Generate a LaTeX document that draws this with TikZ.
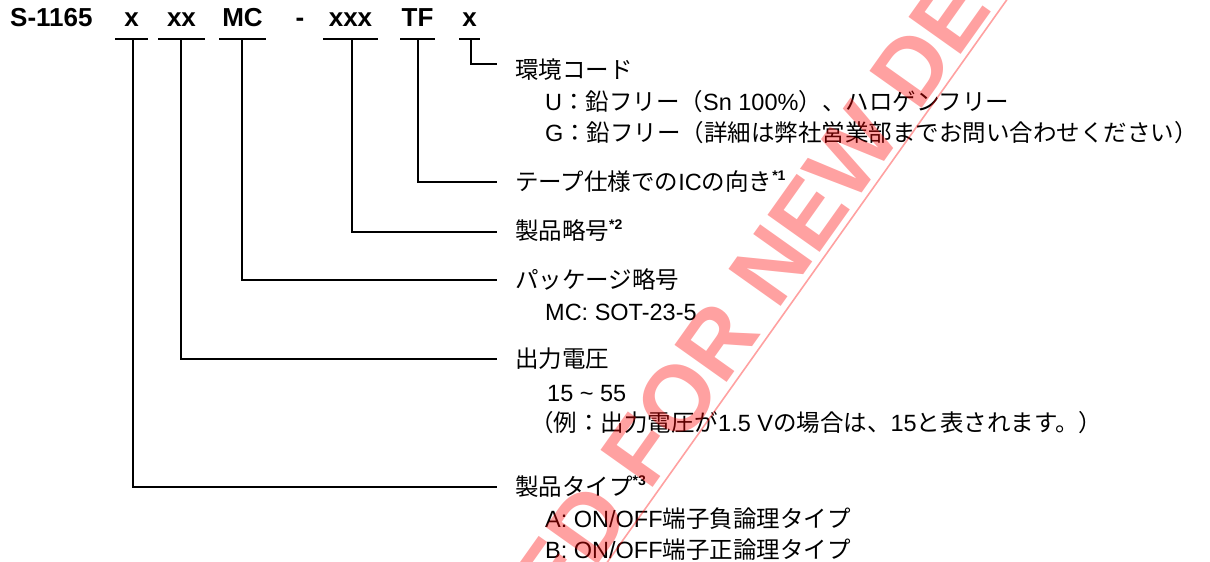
\documentclass[tikz,border=0pt]{standalone}
\usepackage{fontspec}
\setmainfont{Liberation Sans}
\newfontfamily\jpf{Noto Sans CJK JP}
\newcommand\jpt[1]{{\jpf #1}}
\newcommand\noteref[1]{\raisebox{0.42em}{\fontsize{14}{14}\selectfont\bfseries *#1}}
\begin{document}
\begin{tikzpicture}[x=1pt,y=-1pt,
  lab/.style={anchor=base west, inner sep=0pt, font=\fontsize{23.5}{28}\selectfont},
  ttl/.style={anchor=base, inner sep=0pt, font=\fontsize{26}{30}\selectfont\bfseries},
  ln/.style={line width=1.5pt, black},
  wm/.style={inner sep=0pt, text=red, text opacity=0.37, font=\fontsize{93}{100}\selectfont\bfseries},
  wmline/.style={draw=red, draw opacity=0.37, line width=1.6pt}]
\useasboundingbox (0,0) rectangle (1210,562);
% title
\node[ttl, anchor=base west] (t0) at (10,27) {S-1165};
\node[ttl] (t1) at (131.5,27) {x};
\node[ttl] (t2) at (181.5,27) {xx};
\node[ttl] (t3) at (242.5,27) {MC};
\node[ttl] (t4) at (300,27) {-};
\node[ttl] (t5) at (350.5,27) {xxx};
\node[ttl] (t6) at (417.5,27) {TF};
\node[ttl] (t7) at (469.5,27) {x};
% underlines
\coordinate (u1a) at (115,39); \coordinate (u1b) at (148,39);
\coordinate (u2a) at (158,39); \coordinate (u2b) at (205,39);
\coordinate (u3a) at (219,39); \coordinate (u3b) at (266,39);
\coordinate (u5a) at (323,39); \coordinate (u5b) at (378,39);
\coordinate (u6a) at (400,39); \coordinate (u6b) at (435,39);
\coordinate (u7a) at (459,39); \coordinate (u7b) at (480,39);
\foreach \i in {1,2,3,5,6,7} \draw[ln] (u\i a) -- (u\i b);
% stems
\coordinate (s1) at (133,39); \coordinate (s2) at (181,39);
\coordinate (s3) at (242,39); \coordinate (s5) at (352,39);
\coordinate (s6) at (418,39); \coordinate (s7) at (471,39);
% leader ends
\coordinate (h7) at (497,64);
\coordinate (h6) at (497,182);
\coordinate (h5) at (497,232);
\coordinate (h3) at (497,280);
\coordinate (h2) at (497,359);
\coordinate (h1) at (497,487);
\foreach \i in {1,2,3,5,6,7} \draw[ln] (s\i) |- (h\i);
% labels
\node[lab] (l7) at (515,78) {\jpt{環境コード}};
\node[lab] (l7a) at (545,110) {U\jpt{：鉛フリー（}Sn 100\%\jpt{）、ハロゲンフリー}};
\node[lab] (l7b) at (545,141) {G\jpt{：鉛フリー（詳細は弊社営業部までお問い合わせください）}};
\node[lab] (l6) at (515,190) {\jpt{テープ仕様での}IC\jpt{の向き}\noteref{1}};
\node[lab] (l5) at (515,239) {\jpt{製品略号}\noteref{2}};
\node[lab] (l3) at (515,288) {\jpt{パッケージ略号}};
\node[lab] (l3a) at (545,320) {MC: SOT-23-5};
\node[lab] (l2) at (515,367) {\jpt{出力電圧}};
\node[lab] (l2a) at (547,401) {15 \textasciitilde\ 55};
\node[lab] (l2b) at (530,431) {\jpt{（例：出力電圧が}1.5 V\jpt{の場合は、}15\jpt{と表されます。）}};
\node[lab] (l1) at (515,495) {\jpt{製品タイプ}\noteref{3}};
\node[lab] (l1a) at (545,527) {A: ON/OFF\jpt{端子負論理タイプ}};
\node[lab] (l1b) at (545,558) {B: ON/OFF\jpt{端子正論理タイプ}};
% watermark
\begin{scope}
\clip (0,0) rectangle (1210,562);
\node[wm, anchor=base west, rotate=54.6] (wmB) at (649,493) {FOR NEW DESIGN};
\node[wm, anchor=base east, rotate=54.6] (wmA) at ([shift={(-15,21.1)}]wmB.base west) {NOT RECOMMENDED};
\coordinate (wl1) at (566.2,620);
\coordinate (wl2) at (1035.1,-40);
\draw[wmline] (wl1) -- (wl2);
\end{scope}
\end{tikzpicture}
\end{document}
